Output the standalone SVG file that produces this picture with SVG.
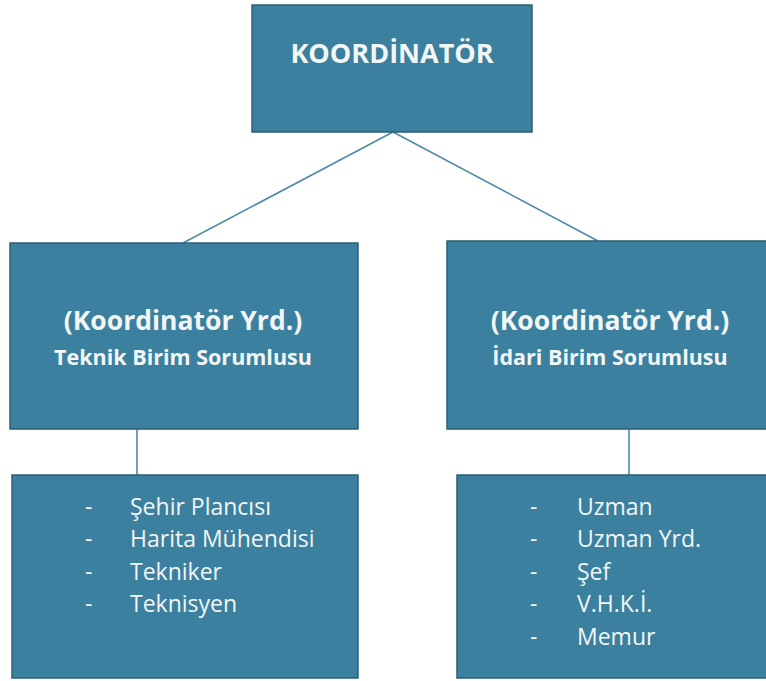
<svg xmlns="http://www.w3.org/2000/svg" width="766" height="681" viewBox="0 0 766 681">
  <style>
    .box { fill: #3c80a0; stroke: #2c5d74; stroke-width: 1.5; }
    .t { font-family: "Open Sans", "Noto Sans", sans-serif; fill: #f2f6f4; }
    .b { font-weight: bold; }
    .c { text-anchor: middle; }
    .ln { stroke: #4f8aa6; stroke-width: 1.6; fill: none; }
  </style>
  <rect width="766" height="681" fill="#ffffff"/>
  <g id="connectors">
    <line class="ln" x1="393" y1="132" x2="183" y2="243"/>
    <line class="ln" x1="393" y1="132" x2="598" y2="241"/>
    <line class="ln" x1="137" y1="429" x2="137" y2="475"/>
    <line class="ln" x1="629" y1="429" x2="629" y2="475"/>
  </g>
  <g id="koordinator">
    <rect class="box" x="252" y="5" width="280" height="127"/>
    <text class="t b c" x="392" y="63" font-size="27">KOORDİNATÖR</text>
  </g>
  <g id="teknik">
    <rect class="box" x="10" y="243" width="348" height="186"/>
    <text class="t b c" x="183" y="330" font-size="26.5">(Koordinatör Yrd.)</text>
    <text class="t b c" x="183" y="365" font-size="21.5">Teknik Birim Sorumlusu</text>
  </g>
  <g id="idari">
    <rect class="box" x="447" y="241" width="330" height="188"/>
    <text class="t b c" x="610" y="330" font-size="26.5">(Koordinatör Yrd.)</text>
    <text class="t b c" x="610" y="365" font-size="21.5">İdari Birim Sorumlusu</text>
  </g>
  <g id="teknik-list">
    <rect class="box" x="12" y="475" width="346" height="203"/>
    <g class="t" font-size="23">
      <text x="85" y="515">-</text><text x="130" y="515">Şehir Plancısı</text>
      <text x="85" y="547">-</text><text x="130" y="547">Harita Mühendisi</text>
      <text x="85" y="580">-</text><text x="130" y="580">Tekniker</text>
      <text x="85" y="612">-</text><text x="130" y="612">Teknisyen</text>
    </g>
  </g>
  <g id="idari-list">
    <rect class="box" x="457" y="475" width="320" height="203"/>
    <g class="t" font-size="23">
      <text x="530" y="515">-</text><text x="577" y="515">Uzman</text>
      <text x="530" y="547">-</text><text x="577" y="547">Uzman Yrd.</text>
      <text x="530" y="580">-</text><text x="577" y="580">Şef</text>
      <text x="530" y="612">-</text><text x="577" y="612">V.H.K.İ.</text>
      <text x="530" y="645">-</text><text x="577" y="645">Memur</text>
    </g>
  </g>
</svg>
